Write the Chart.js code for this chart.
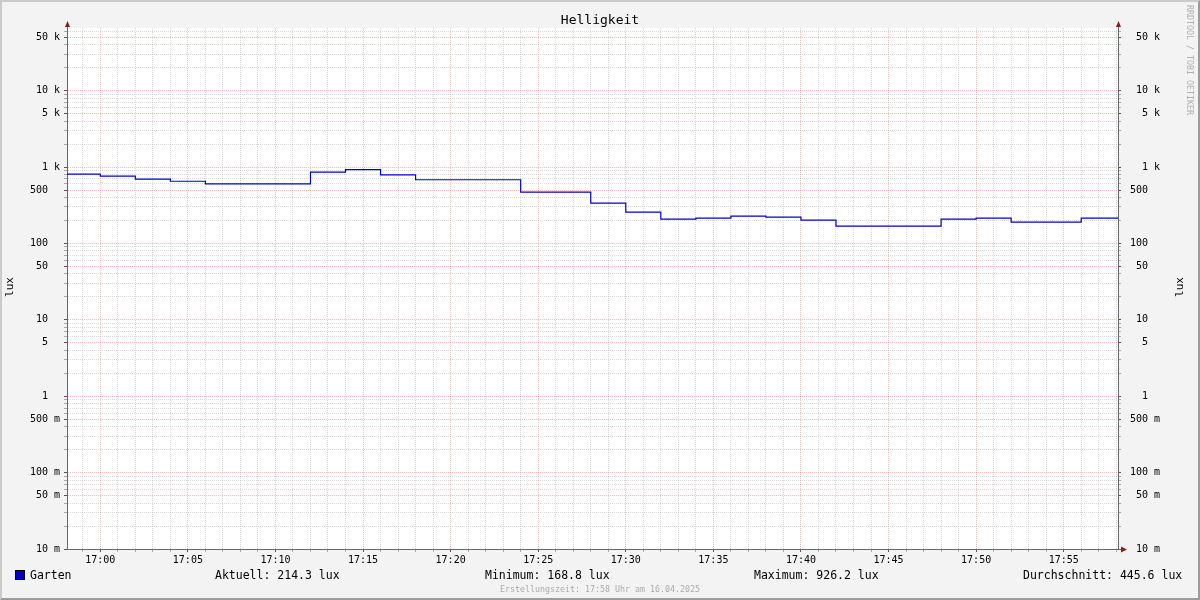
<!DOCTYPE html>
<html>
<head>
<meta charset="utf-8">
<script src="https://cdn.jsdelivr.net/npm/chart.js@4.4.0/dist/chart.umd.min.js"></script>
<style>
html, body { margin: 0; padding: 0; background: #f3f3f3; }
#wrap { position: relative; width: 1200px; height: 600px; background: #f3f3f3; overflow: hidden;
        font-family: 'DejaVu Sans Mono', monospace; }
#frame { position: absolute; left: 0; top: 0; width: 1200px; height: 600px; box-sizing: border-box;
         border: 2px solid; border-color: #cbcbcb #9b9b9b #9b9b9b #cbcbcb; pointer-events: none; }
canvas { position: absolute; left: 0; top: 0; }
.t { position: absolute; white-space: pre; color: #000; }
#title { left: 0; width: 1200px; top: 12px; text-align: center; font-size: 13px; line-height: 16px; }
.leg { top: 568px; font-size: 11.5px; line-height: 14px; }
#swatch { position: absolute; left: 15px; top: 570px; width: 10px; height: 10px; box-sizing: border-box;
          background: #0000cc; border: 1px solid #000; }
#foot { left: 0; width: 1200px; top: 584px; text-align: center; font-size: 8.3px; line-height: 10px; color: #aaa; }
#mark { left: 1185px; top: 5px; writing-mode: vertical-rl; font-size: 8.3px; line-height: 10px; color: #b0b0b0; }
.unit { font-size: 11px; line-height: 12px; transform: translate(-50%, -50%) rotate(-90deg); }
</style>
</head>
<body>
<div id="wrap">
  <canvas id="chart" width="1200" height="600"></canvas>
  <div class="t" id="title"></div>
  <div class="t unit" style="left:10px; top:287px;">lux</div>
  <div class="t unit" style="left:1180px; top:287px;">lux</div>
  <div id="swatch"></div>
  <div id="legend"></div>
  <div class="t" id="foot"></div>
  <div class="t" id="mark">RRDTOOL / TOBI OETIKER</div>
  <div id="frame"></div>
</div>
<script>
// ===== Data =====
const TITLE = 'Helligkeit';
const SERIES_NAME = 'Garten';
// step start, minutes relative to 17:00 (view starts 16:58:06)
const stepMin   = [-1.9, 0, 2, 4, 6, 12, 14, 16, 18, 24, 28, 30, 32, 34, 36, 38, 40, 42, 48, 50, 52, 56];
const luxValues = [808, 761, 695, 651, 603, 858, 926.2, 791, 681, 470, 337, 257, 208, 214, 228, 221, 202, 168.8, 208, 214, 190, 214.3];
const END_MIN = 58.1;

const yMajorValues = [0.01, 0.05, 0.1, 0.5, 1, 5, 10, 50, 100, 500, 1000, 5000, 10000, 50000];
const yMajorLabels = ['10 m', '50 m', '100 m', '500 m', '1  ', '5  ', '10  ', '50  ', '100  ', '500  ', '1 k', '5 k', '10 k', '50 k'];
const xMajorMinutes = [0, 5, 10, 15, 20, 25, 30, 35, 40, 45, 50, 55];
const xTickLabels = ['17:00', '17:05', '17:10', '17:15', '17:20', '17:25', '17:30', '17:35', '17:40', '17:45', '17:50', '17:55'];

const legendItems = [
  ['Aktuell: 214.3 lux', 215],
  ['Minimum: 168.8 lux', 485],
  ['Maximum: 926.2 lux', 754],
  ['Durchschnitt: 445.6 lux', 1023]
];
const FOOTER = 'Erstellungszeit: 17:58 Uhr am 16.04.2025';

// ===== Look =====
const Y_MIN = 0.01, Y_MAX = 66000;
const GRID = 'rgba(140,140,140,0.32)';
const MGRID = 'rgba(220,50,50,0.3)';
const AXIS = '#666';
const ARROW = '#8b1a1a';
const FONT = { family: "'DejaVu Sans Mono', monospace", size: 10 };

// ===== Text bits =====
document.getElementById('title').textContent = TITLE;
document.getElementById('foot').textContent = FOOTER;
const legend = document.getElementById('legend');
[[SERIES_NAME, 30], ...legendItems].forEach(([txt, left]) => {
  const d = document.createElement('div');
  d.className = 't leg'; d.style.left = left + 'px'; d.textContent = txt;
  legend.appendChild(d);
});

// ===== Helpers =====
function logTicks() {
  const t = [];
  for (let d = -2; d <= 4; d++) for (let k = 1; k <= 9; k++) {
    const v = +(k * Math.pow(10, d)).toPrecision(3);
    if (v <= Y_MAX) t.push({ value: v });
  }
  return t;
}
const yMajorIdx = (v) => yMajorValues.findIndex(m => Math.abs(m - v) / m < 1e-6);
const yGridColor = (c) => (c.tick && yMajorIdx(c.tick.value) >= 0) ? MGRID : GRID;
const yTickColor = (c) => (c.tick && yMajorIdx(c.tick.value) >= 0) ? '#555' : '#aaa';

function yScale(position, width) {
  return {
    type: 'logarithmic', position, min: Y_MIN, max: Y_MAX,
    afterBuildTicks: (s) => { s.ticks = logTicks(); },
    afterFit: (s) => { s.width = width; s.paddingTop = 0; s.paddingBottom = 0; },
    grid: { color: yGridColor, tickColor: yTickColor, tickLength: 3, lineWidth: 1,
            drawOnChartArea: position === 'left' },
    border: { color: AXIS, width: 1, dash: [1, 1] },
    ticks: {
      autoSkip: false, font: FONT, color: '#000',
      padding: position === 'left' ? 4 : 9,
      crossAlign: position === 'left' ? 'near' : 'far',
      callback: (v) => { const i = yMajorIdx(v); return i >= 0 ? yMajorLabels[i] : ''; }
    }
  };
}

const data = stepMin.map((m, i) => ({ x: m, y: luxValues[i] }));
data.push({ x: END_MIN, y: luxValues[luxValues.length - 1] });

const canvasPlugin = {
  id: 'rrdLook',
  beforeDraw(chart) {
    const { ctx, chartArea: a } = chart;
    ctx.save();
    ctx.fillStyle = '#fff';
    ctx.fillRect(a.left, a.top, a.right - a.left, a.bottom - a.top);
    ctx.restore();
  },
  afterDraw(chart) {
    const { ctx, chartArea: a } = chart;
    const xl = Math.round(a.left) + 0.5, xr = Math.round(a.right) + 0.5, yb = Math.round(a.bottom) + 0.5;
    ctx.save();
    ctx.strokeStyle = AXIS; ctx.lineWidth = 1;
    ctx.beginPath();
    ctx.moveTo(xl, a.top); ctx.lineTo(xl, a.top - 4);
    ctx.moveTo(xr, a.top); ctx.lineTo(xr, a.top - 4);
    ctx.moveTo(a.right, yb); ctx.lineTo(a.right + 4, yb);
    ctx.stroke();
    ctx.fillStyle = ARROW;
    [xl, xr].forEach(x => {
      ctx.beginPath();
      ctx.moveTo(x - 2.5, a.top - 1); ctx.lineTo(x + 2.5, a.top - 1); ctx.lineTo(x, a.top - 7);
      ctx.closePath(); ctx.fill();
    });
    ctx.beginPath();
    ctx.moveTo(a.right + 3, yb - 3); ctx.lineTo(a.right + 3, yb + 3); ctx.lineTo(a.right + 9, yb);
    ctx.closePath(); ctx.fill();
    ctx.restore();
  }
};

new Chart(document.getElementById('chart'), {
  type: 'line',
  data: {
    datasets: [{
      label: SERIES_NAME, data, stepped: true,
      borderColor: '#0000cc', borderWidth: 1.2, pointRadius: 0, fill: false,
      xAxisID: 'x', yAxisID: 'y'
    }]
  },
  options: {
    responsive: false, animation: false, devicePixelRatio: 1,
    layout: { padding: { left: 30, right: 40, top: 28, bottom: 31 } },
    plugins: { legend: { display: false }, tooltip: { enabled: false }, title: { display: false } },
    scales: {
      x: {
        type: 'linear', min: stepMin[0], max: END_MIN,
        afterBuildTicks: (s) => { const t = []; for (let m = -1; m <= 58; m++) t.push({ value: m }); s.ticks = t; },
        afterFit: (s) => { s.height = 20; s.paddingLeft = 0; s.paddingRight = 0; },
        grid: {
          color: (c) => (c.tick && xMajorMinutes.includes(c.tick.value)) ? MGRID : GRID,
          tickColor: (c) => (c.tick && xMajorMinutes.includes(c.tick.value)) ? '#555' : '#aaa',
          tickLength: 3, lineWidth: 1
        },
        border: { color: AXIS, width: 1, dash: [1, 1] },
        ticks: {
          autoSkip: false, maxRotation: 0, minRotation: 0, font: FONT, color: '#000', padding: 2,
          callback: (v) => { const i = xMajorMinutes.indexOf(v); return i >= 0 ? xTickLabels[i] : ''; }
        }
      },
      y: yScale('left', 37),
      y2: yScale('right', 42)
    }
  },
  plugins: [canvasPlugin]
});
</script>
</body>
</html>
